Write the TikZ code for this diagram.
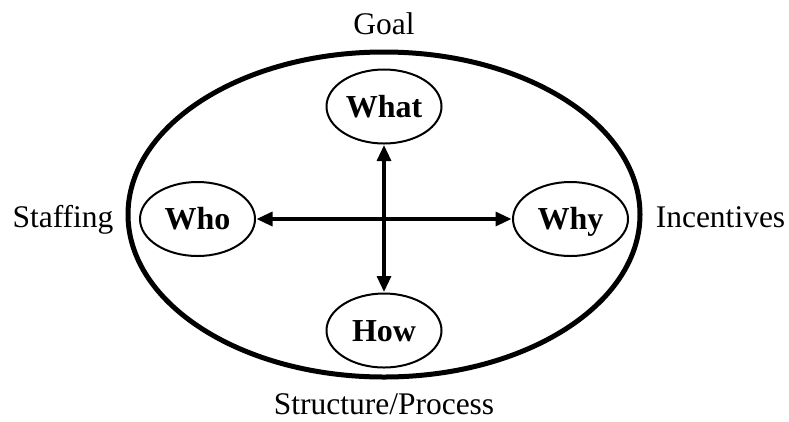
\documentclass[tikz,border=0pt]{standalone}
\usepackage{fontspec}
\setmainfont{Liberation Serif}
\usetikzlibrary{shapes.geometric,arrows.meta}
\begin{document}
\begin{tikzpicture}[x=1pt,y=-1pt,
  outer/.style={draw, ellipse, line width=5pt, minimum width=512pt, minimum height=325pt, inner sep=0pt},
  qbox/.style={draw, ellipse, line width=2pt, minimum width=115pt, minimum height=74pt, inner sep=0pt,
    text height=21.5pt, text depth=0pt,
    font=\fontsize{32}{36}\selectfont\bfseries},
  side/.style={inner sep=0pt, font=\fontsize{31.5}{36}\selectfont},
  link/.style={line width=3.2pt, {Triangle[length=16pt,width=14pt]}-{Triangle[length=16pt,width=14pt]}, shorten <=0.5pt, shorten >=0.5pt}]
  \useasboundingbox (0,0) rectangle (789,421);
  % frame and the four questions
  \node[outer] (frame) at (384,214.5) {};
  \node[qbox] (what) at (384,106.5) {What};
  \node[qbox] (who)  at (197.5,219) {Who};
  \node[qbox] (why)  at (570.5,219) {Why};
  \node[qbox] (how)  at (384,330.5) {How};
  % labels around the frame
  \node[side, anchor=base] (goal) at (384,34) {Goal};
  \node[side, anchor=base] (staff) at (63,227) {Staffing};
  \node[side, anchor=base] (inc) at (720.5,227) {Incentives};
  \node[side, anchor=base] (struct) at (384,414) {Structure/Process};
  % connectors
  \draw[link] (who) -- (why);
  \draw[link] (what) -- (how);
\end{tikzpicture}
\end{document}
